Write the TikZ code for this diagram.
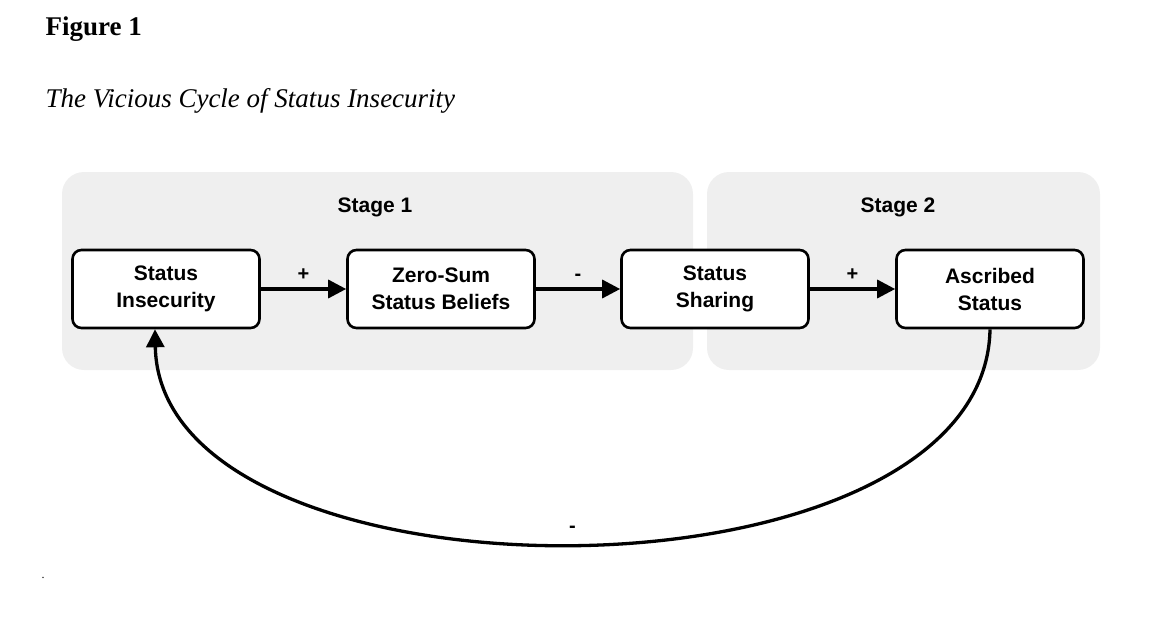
\documentclass[tikz,border=0pt]{standalone}
\usepackage{fontspec}
\setmainfont{Liberation Serif}
\setsansfont{Liberation Sans}
\usetikzlibrary{arrows.meta,positioning}
\definecolor{stagegray}{HTML}{EFEFEF}
\tikzset{
  stage/.style={fill=stagegray, rounded corners=22pt},
  stagelabel/.style={font=\sffamily\bfseries\fontsize{21}{25}\selectfont},
  var/.style={draw, line width=2.6pt, rounded corners=9pt, fill=white, minimum width=187pt,
    minimum height=78pt, align=center, font=\sffamily\bfseries\fontsize{21}{27}\selectfont},
  link/.style={line width=3.3pt, -{Triangle[length=18pt,width=18pt]}},
  sign/.style={font=\sffamily\bfseries\fontsize{20}{22}\selectfont}
}
\begin{document}
\begin{tikzpicture}[x=1pt,y=-1pt]
  \useasboundingbox (0,0) rectangle (1166,618);
  % caption
  \node[anchor=base west, font=\bfseries\fontsize{27}{30}\selectfont] (fig) at (42,36) {Figure 1};
  \node[anchor=base west, font=\itshape\fontsize{27}{30}\selectfont] (title) at (42,107) {The Vicious Cycle of Status Insecurity};
  % stages
  \fill[stage] (62,172) rectangle (693,370);
  \fill[stage] (707,172) rectangle (1100,370);
  \node[stagelabel] (s1) at (375,207) {Stage 1};
  \node[stagelabel] (s2) at (898,207) {Stage 2};
  % variables
  \node[var] (insec) at (166,289) {Status\\Insecurity};
  \node[var] (zero) at (441,289) {Zero-Sum\\Status Beliefs};
  \node[var] (share) at (715,289) {Status\\Sharing};
  \node[var] (ascr) at (990,289) {Ascribed\\Status};
  % links
  \draw[link] (insec) -- node[sign, above=4pt] {+} (zero);
  \draw[link] (zero) -- node[sign, above=4pt] {-} (share);
  \draw[link] (share) -- node[sign, above=4pt] {+} (ascr);
  \draw[link] (ascr.south) .. controls (985,615) and (160,615) .. node[sign, above=6pt] {-} (insec.south -| 155,0);
  \node[font=\fontsize{12}{14}\selectfont] (dot) at (43,578) {.};
\end{tikzpicture}
\end{document}
